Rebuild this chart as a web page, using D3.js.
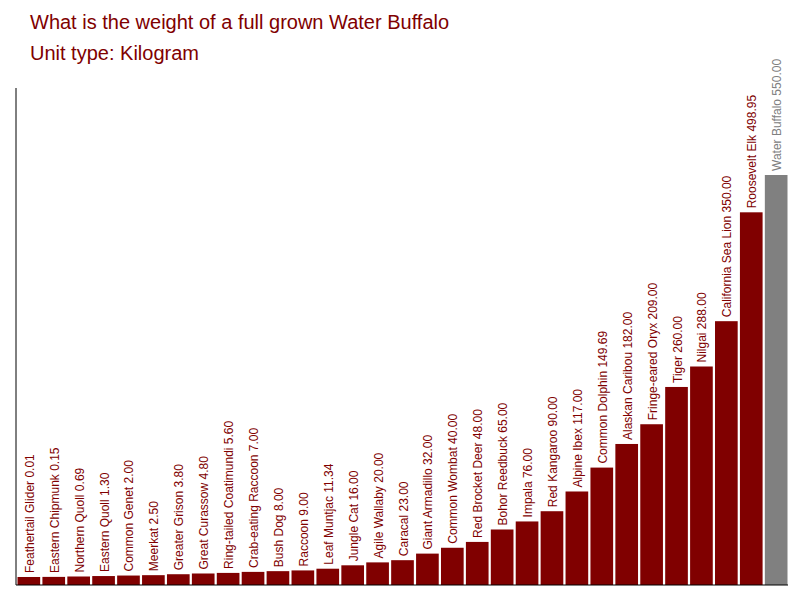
<!DOCTYPE html>
<html><head><meta charset="utf-8">
<script src="https://cdn.jsdelivr.net/npm/d3@7"></script>
<style>body{margin:0;background:#fff}text{font-family:Arial,"Liberation Sans",sans-serif}</style>
</head><body>
<svg id="chart" width="800" height="600"></svg>
<script>
const names = ["Feathertail Glider","Eastern Chipmunk","Northern Quoll","Eastern Quoll","Common Genet","Meerkat","Greater Grison","Great Curassow","Ring-tailed Coatimundi","Crab-eating Raccoon","Bush Dog","Raccoon","Leaf Muntjac","Jungle Cat","Agile Wallaby","Caracal","Giant Armadillo","Common Wombat","Red Brocket Deer","Bohor Reedbuck","Impala","Red Kangaroo","Alpine Ibex","Common Dolphin","Alaskan Caribou","Fringe-eared Oryx","Tiger","Nilgai","California Sea Lion","Roosevelt Elk","Water Buffalo"];
const weights = [0.01,0.15,0.69,1.30,2.00,2.50,3.80,4.80,5.60,7.00,8.00,9.00,11.34,16.00,20.00,23.00,32.00,40.00,48.00,65.00,76.00,90.00,117.00,149.69,182.00,209.00,260.00,288.00,350.00,498.95,550.00];

const svg = d3.select("#chart");
const base = 585;
const x = d3.scaleBand().domain(names).range([17, 788]).paddingInner(0.09).paddingOuter(0.02);
const y = d3.scaleLinear().domain([0, 550]).range([base - 8, 175]);
const color = n => n === "Water Buffalo" ? "#808080" : "#800000";

svg.append("g").selectAll("rect").data(names).join("rect")
  .attr("x", d => x(d)).attr("width", x.bandwidth())
  .attr("y", (d, i) => y(weights[i])).attr("height", (d, i) => base - y(weights[i]))
  .attr("fill", color);

svg.append("g").selectAll("text").data(names).join("text")
  .attr("transform", (d, i) => `translate(${x(d) + x.bandwidth() / 2 + 5},${y(weights[i]) - 4}) rotate(-90)`)
  .attr("font-size", 12).attr("fill", color)
  .text((d, i) => `${d} ${weights[i].toFixed(2)}`);

svg.append("line").attr("x1", 16).attr("x2", 16).attr("y1", 88).attr("y2", base).attr("stroke", "#000");
svg.append("line").attr("x1", 16).attr("x2", 788).attr("y1", base).attr("y2", base).attr("stroke", "#000");

svg.append("text").attr("x", 30).attr("y", 29).attr("font-size", 20).attr("fill", "#800000")
  .text("What is the weight of a full grown Water Buffalo");
svg.append("text").attr("x", 30).attr("y", 60).attr("font-size", 20).attr("fill", "#800000")
  .text("Unit type: Kilogram");
</script>
</body></html>
